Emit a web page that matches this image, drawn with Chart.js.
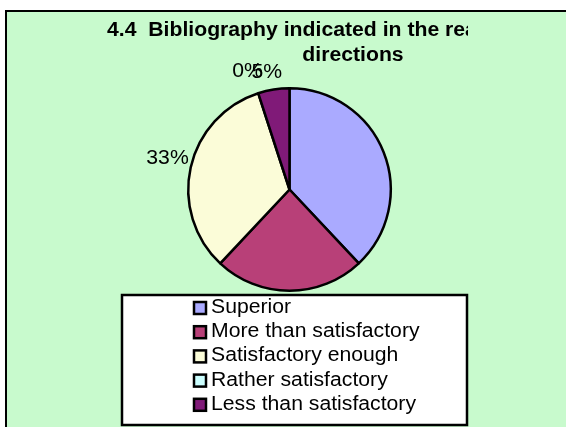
<!DOCTYPE html>
<html>
<head>
<meta charset="utf-8">
<script src="https://cdn.jsdelivr.net/npm/chart.js@4"></script>
<style>
  html, body { margin: 0; padding: 0; background: #FFFFFF; }
  canvas { display: block; }
</style>
</head>
<body>
<canvas id="chart_pie" width="566" height="427"></canvas>

<script>
// chart data
const categories  = ['Superior', 'More than satisfactory', 'Satisfactory enough', 'Rather satisfactory', 'Less than satisfactory'];
const percents    = [38, 24, 33, 0, 5];
const showPercent = [false, false, true, true, true];
const sliceColors = ['#AAAAFF', '#B84078', '#FBFCD8', '#CCFFFF', '#801A78'];
const titleLines  = ['4.4  Bibliography indicated in the reading', 'directions'];

const FONT = '"Liberation Sans", Arial, sans-serif';
const STRETCH = 1.06; // text in the source is a bit wider than normal

function drawText ( ctx, txt, x, y, align, base ) {
  ctx.save();
  ctx.translate(x, y);
  ctx.scale(STRETCH, 1);
  ctx.textAlign = align;
  ctx.textBaseline = base;
  ctx.fillText(txt, 0, 0);
  ctx.restore();
}

// green panel with black frame behind everything
const framePlugin = {
  id: 'frame',
  beforeDraw: function ( chart ) {
    const c = chart.ctx;
    c.save();
    c.fillStyle = '#FFFFFF';
    c.fillRect(0, 0, chart.width, chart.height);
    c.fillStyle = '#C8FACD';
    c.fillRect(6, 11, 700, 600);
    c.strokeStyle = '#000000';
    c.lineWidth = 2;
    c.strokeRect(6, 11, 700, 600);
    c.restore();
  }
};

// title, percent labels and the boxed legend
const decoPlugin = {
  id: 'deco',
  afterDraw: function ( chart ) {
    const c = chart.ctx;

    // title (clipped on the right like in the source)
    c.save();
    c.beginPath();
    c.rect(0, 0, 468, 80);
    c.clip();
    c.fillStyle = '#000000';
    c.font = 'bold 20px ' + FONT;
    drawText(c, titleLines[0], 107, 36, 'left', 'alphabetic');
    drawText(c, titleLines[1], 353, 61, 'center', 'alphabetic');
    c.restore();

    // percent labels outside the slices
    const nudge = { 2: [1, -8], 3: [-7, -5], 4: [-5, 0] };
    const meta = chart.getDatasetMeta(0);
    c.save();
    c.fillStyle = '#000000';
    c.font = '20px ' + FONT;
    for ( let i = 0; i < percents.length; i++ ) {
      if ( !showPercent[i] ) continue;
      const p = meta.data[i].getProps(['x', 'y', 'startAngle', 'endAngle', 'outerRadius'], true);
      const mid = (p.startAngle + p.endAngle) / 2;
      const dx = Math.cos(mid), dy = Math.sin(mid);
      const gap = Math.abs(dx) > 0.5 ? 3 : 12;
      let x = p.x + dx * (p.outerRadius + gap);
      let y = p.y + dy * (p.outerRadius + gap);
      const n = nudge[i] || [0, 0];
      x += n[0]; y += n[1];
      const align = dx < -0.5 ? 'right' : (dx > 0.5 ? 'left' : 'center');
      const base  = dy < -0.5 ? 'alphabetic' : (dy > 0.5 ? 'top' : 'middle');
      drawText(c, percents[i] + '%', x, y, align, base);
    }
    c.restore();

    // legend box
    c.save();
    c.fillStyle = '#FFFFFF';
    c.fillRect(122, 295, 345, 130);
    c.strokeStyle = '#000000';
    c.lineWidth = 2.5;
    c.strokeRect(122, 295, 345, 130);
    c.beginPath();
    c.rect(123, 296, 343, 128);
    c.clip();
    c.font = '20px ' + FONT;
    for ( let i = 0; i < categories.length; i++ ) {
      const base = 313 + i * 24.2;
      c.fillStyle = sliceColors[i];
      c.fillRect(194, base - 11, 12, 12);
      c.strokeRect(194, base - 11, 12, 12);
      c.fillStyle = '#000000';
      drawText(c, categories[i], 211, base, 'left', 'alphabetic');
    }
    c.restore();
  }
};

const configPie = {
  type: 'pie',
  data: {
    labels: categories,
    datasets: [{
      data: percents,
      backgroundColor: sliceColors,
      borderColor: '#000000',
      borderWidth: 2.5,
    }]
  },
  options: {
    responsive: false,
    animation: false,
    layout: {
      padding: { left: 187, right: 174, top: 87, bottom: 135 }
    },
    plugins: {
      legend: { display: false },
      title: { display: false },
      tooltip: { enabled: false }
    }
  },
  plugins: [framePlugin, decoPlugin]
};

const chartPie = new Chart(document.getElementById('chart_pie'), configPie);
</script>
</body>
</html>
